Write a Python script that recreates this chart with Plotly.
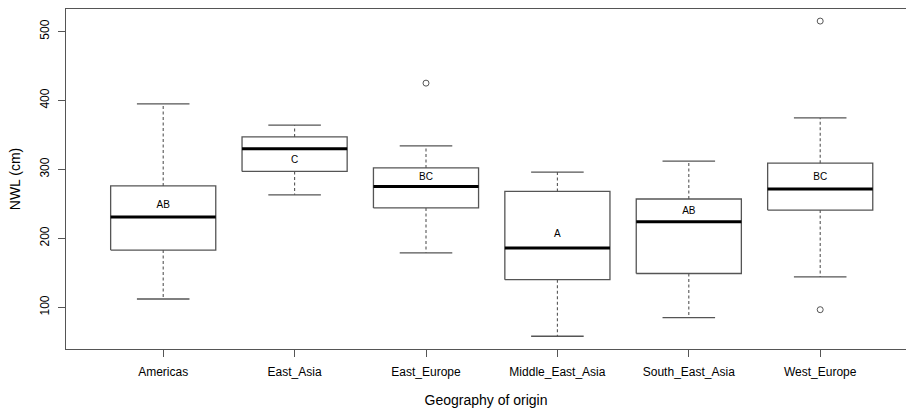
import plotly.graph_objects as go

groups = ["Americas", "East_Asia", "East_Europe", "Middle_East_Asia", "South_East_Asia", "West_Europe"]
lower_whisker = [112, 263, 179, 58, 85, 144]
q1 = [183, 297, 244, 140, 149, 241]
median = [231, 330, 275, 186, 224, 271.5]
q3 = [276, 347, 302, 268, 257, 309]
upper_whisker = [395, 364, 334, 296, 312, 374.5]
outlier_group = ["East_Europe", "West_Europe", "West_Europe"]
outlier_value = [425, 515, 96.5]
letters = ["AB", "C", "BC", "A", "AB", "BC"]
group_mean = [248, 313.5, 288.5, 206, 239, 288]

LINE = "#555555"
BW = 0.4   # half box width
CW = 0.2   # half cap width

fig = go.Figure()
for i, g in enumerate(groups):
    x = i + 1
    fig.add_trace(go.Scatter(
        x=[x - BW, x + BW, x + BW, x - BW, x - BW],
        y=[q1[i], q1[i], q3[i], q3[i], q1[i]],
        mode="lines", line=dict(color=LINE, width=1.3),
        fill="toself", fillcolor="white", hoverinfo="skip"))
    fig.add_trace(go.Scatter(
        x=[x, x, None, x, x],
        y=[q3[i], upper_whisker[i], None, q1[i], lower_whisker[i]],
        mode="lines", line=dict(color=LINE, width=1.1, dash="3px,2.5px"), hoverinfo="skip"))
    fig.add_trace(go.Scatter(
        x=[x - CW, x + CW, None, x - CW, x + CW],
        y=[upper_whisker[i], upper_whisker[i], None, lower_whisker[i], lower_whisker[i]],
        mode="lines", line=dict(color=LINE, width=1.3), hoverinfo="skip"))
    fig.add_trace(go.Scatter(
        x=[x - BW, x + BW], y=[median[i], median[i]],
        mode="lines", line=dict(color="black", width=3), hoverinfo="skip"))

fig.add_trace(go.Scatter(
    x=[groups.index(g) + 1 for g in outlier_group], y=outlier_value,
    mode="markers", marker=dict(symbol="circle-open", size=6, color=LINE, line=dict(width=1)),
    hoverinfo="skip"))

fig.add_trace(go.Scatter(
    x=list(range(1, len(groups) + 1)), y=group_mean, text=letters,
    mode="text", textfont=dict(family="Liberation Sans, Arial", size=10, color="black"),
    hoverinfo="skip"))

fig.update_layout(
    width=906, height=408,
    margin=dict(l=66, r=0, t=9, b=59),
    paper_bgcolor="white", plot_bgcolor="white",
    showlegend=False,
    font=dict(family="Liberation Sans, Arial", size=12, color="black"),
    xaxis=dict(
        range=[0.2603, 6.653],
        tickvals=list(range(1, len(groups) + 1)), ticktext=groups,
        showgrid=False, zeroline=False,
        showline=True, mirror=True, linecolor=LINE, linewidth=1.3,
        ticks="outside", ticklen=7, tickcolor=LINE, ticklabelstandoff=4,
        title=dict(text="Geography of origin", standoff=18),
    ),
    yaxis=dict(
        range=[39.5, 532.5],
        tickvals=[100, 200, 300, 400, 500],
        tickangle=-90,
        showgrid=False, zeroline=False,
        showline=True, mirror=False, linecolor=LINE, linewidth=1.3,
        ticks="outside", ticklen=7, tickcolor=LINE, ticklabelstandoff=4,
        title=dict(text="NWL (cm)", standoff=14),
    ),
)

fig.write_html("out.html",
               config={"displayModeBar": False, "staticPlot": True},
               post_script="document.body.style.margin='0';document.body.style.overflow='hidden';")
